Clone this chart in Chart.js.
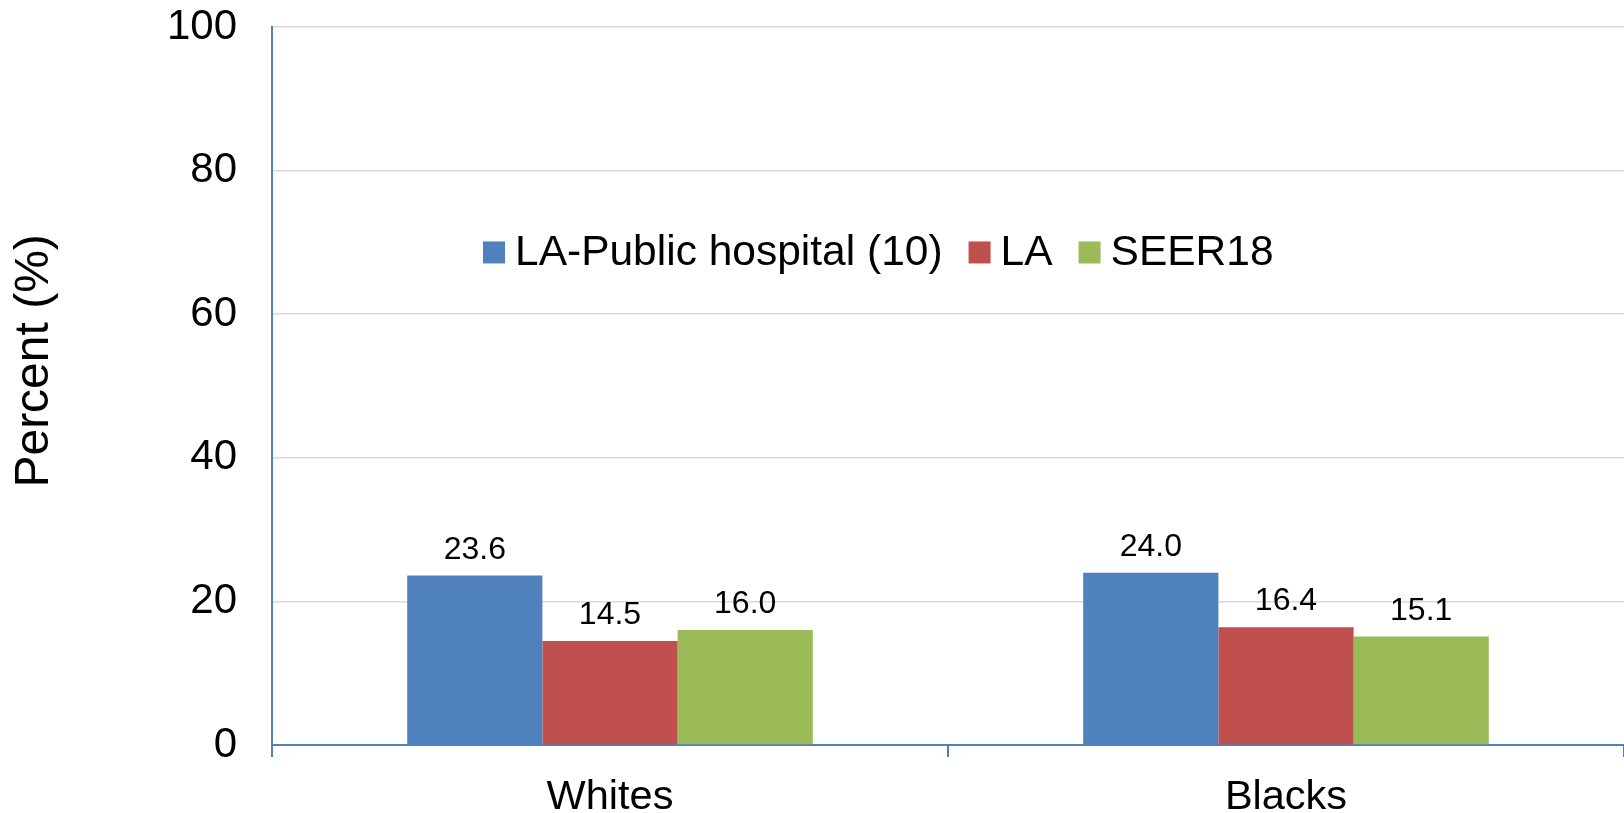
<!DOCTYPE html>
<html>
<head>
<meta charset="utf-8">
<script src="https://cdn.jsdelivr.net/npm/chart.js@4.4.1/dist/chart.umd.min.js"></script>
<style>
  html, body { margin: 0; padding: 0; background: #fff; }
  #wrap { width: 1624px; height: 813px; }
</style>
</head>
<body>
<div id="wrap"><canvas id="chart"></canvas></div>
<script>
// data
var categories = ['Whites', 'Blacks'];
var seriesNames = ['LA-Public hospital (10)', 'LA', 'SEER18'];
var publicHospital = [23.6, 24.0];
var laValues = [14.5, 16.4];
var seerValues = [16.0, 15.1];
var yTicks = [0, 20, 40, 60, 80, 100];
var yTitle = 'Percent (%)';

var colors = ['#4F81BD', '#C0504D', '#9BBB59'];
var FONT = '"Liberation Sans", Arial, sans-serif';

// numbers on top of each bar
var valueLabels = {
  id: 'valueLabels',
  afterDatasetsDraw: function (chart) {
    var ctx = chart.ctx;
    ctx.save();
    ctx.font = '32px ' + FONT;
    ctx.fillStyle = '#000';
    ctx.textAlign = 'center';
    ctx.textBaseline = 'alphabetic';
    chart.data.datasets.forEach(function (ds, i) {
      chart.getDatasetMeta(i).data.forEach(function (bar, j) {
        ctx.fillText(ds.data[j].toFixed(1), bar.x, bar.y - 17);
      });
    });
    ctx.restore();
  }
};

// legend sits inside the plot, like the excel original
var insideLegend = {
  id: 'insideLegend',
  afterDraw: function (chart) {
    var ctx = chart.ctx;
    var area = chart.chartArea;
    var x = area.left + 211;
    var y = chart.scales.y.getPixelForValue(68.6);
    ctx.save();
    ctx.font = '42.5px ' + FONT;
    ctx.textBaseline = 'middle';
    ctx.textAlign = 'left';
    chart.data.datasets.forEach(function (ds) {
      ctx.fillStyle = ds.backgroundColor;
      ctx.fillRect(x, y - 11, 22, 22);
      x += 32;
      ctx.fillStyle = '#000';
      ctx.fillText(ds.label, x, y + 1);
      x += ctx.measureText(ds.label).width + 26;
    });
    ctx.restore();
  }
};

// axis title, a bit above the middle of the plot as in the original
var axisTitle = {
  id: 'axisTitle',
  afterDraw: function (chart) {
    var ctx = chart.ctx;
    ctx.save();
    ctx.translate(35, chart.scales.y.getPixelForValue(53.5));
    ctx.rotate(-Math.PI / 2);
    ctx.font = '48px ' + FONT;
    ctx.fillStyle = '#000';
    ctx.textAlign = 'center';
    ctx.textBaseline = 'middle';
    ctx.fillText(yTitle, 0, 0);
    ctx.restore();
  }
};

var ctx = document.getElementById('chart').getContext('2d');
var chart = new Chart(ctx, {
  type: 'bar',
  data: {
    labels: categories,
    datasets: [
      { label: seriesNames[0], data: publicHospital, backgroundColor: colors[0] },
      { label: seriesNames[1], data: laValues, backgroundColor: colors[1] },
      { label: seriesNames[2], data: seerValues, backgroundColor: colors[2] }
    ]
  },
  options: {
    responsive: true,
    maintainAspectRatio: false,
    animation: false,
    layout: { padding: { top: 27, right: 0, bottom: 0, left: 0 } },
    datasets: {
      bar: { categoryPercentage: 0.6, barPercentage: 1.0, borderWidth: 0 }
    },
    plugins: {
      legend: { display: false },
      tooltip: { enabled: false }
    },
    scales: {
      x: {
        offset: true,
        grid: {
          offset: true,
          drawOnChartArea: false,
          drawTicks: true,
          tickLength: 12,
          color: '#4F81BD',
          lineWidth: 2
        },
        border: { display: true, color: '#4F81BD', width: 2 },
        ticks: {
          color: '#000',
          padding: 16,
          font: { family: FONT, size: 41.5 }
        },
        afterFit: function (s) { s.height = 68; }
      },
      y: {
        min: 0,
        max: 100,
        afterBuildTicks: function (s) {
          s.ticks = yTicks.map(function (v) { return { value: v }; });
        },
        grid: {
          drawTicks: false,
          color: function (c) { return c.tick && c.tick.value === 0 ? 'rgba(0,0,0,0)' : '#D9D9D9'; },
          lineWidth: 1.5
        },
        border: { display: true, color: '#4F81BD', width: 2 },
        ticks: {
          color: '#000',
          padding: 35,
          font: { family: FONT, size: 42 }
        },
        afterFit: function (s) {
          s.width = 272;
          s.paddingTop = 0;
          s.paddingBottom = 0;
        }
      }
    }
  },
  plugins: [valueLabels, insideLegend, axisTitle]
});
</script>
</body>
</html>
